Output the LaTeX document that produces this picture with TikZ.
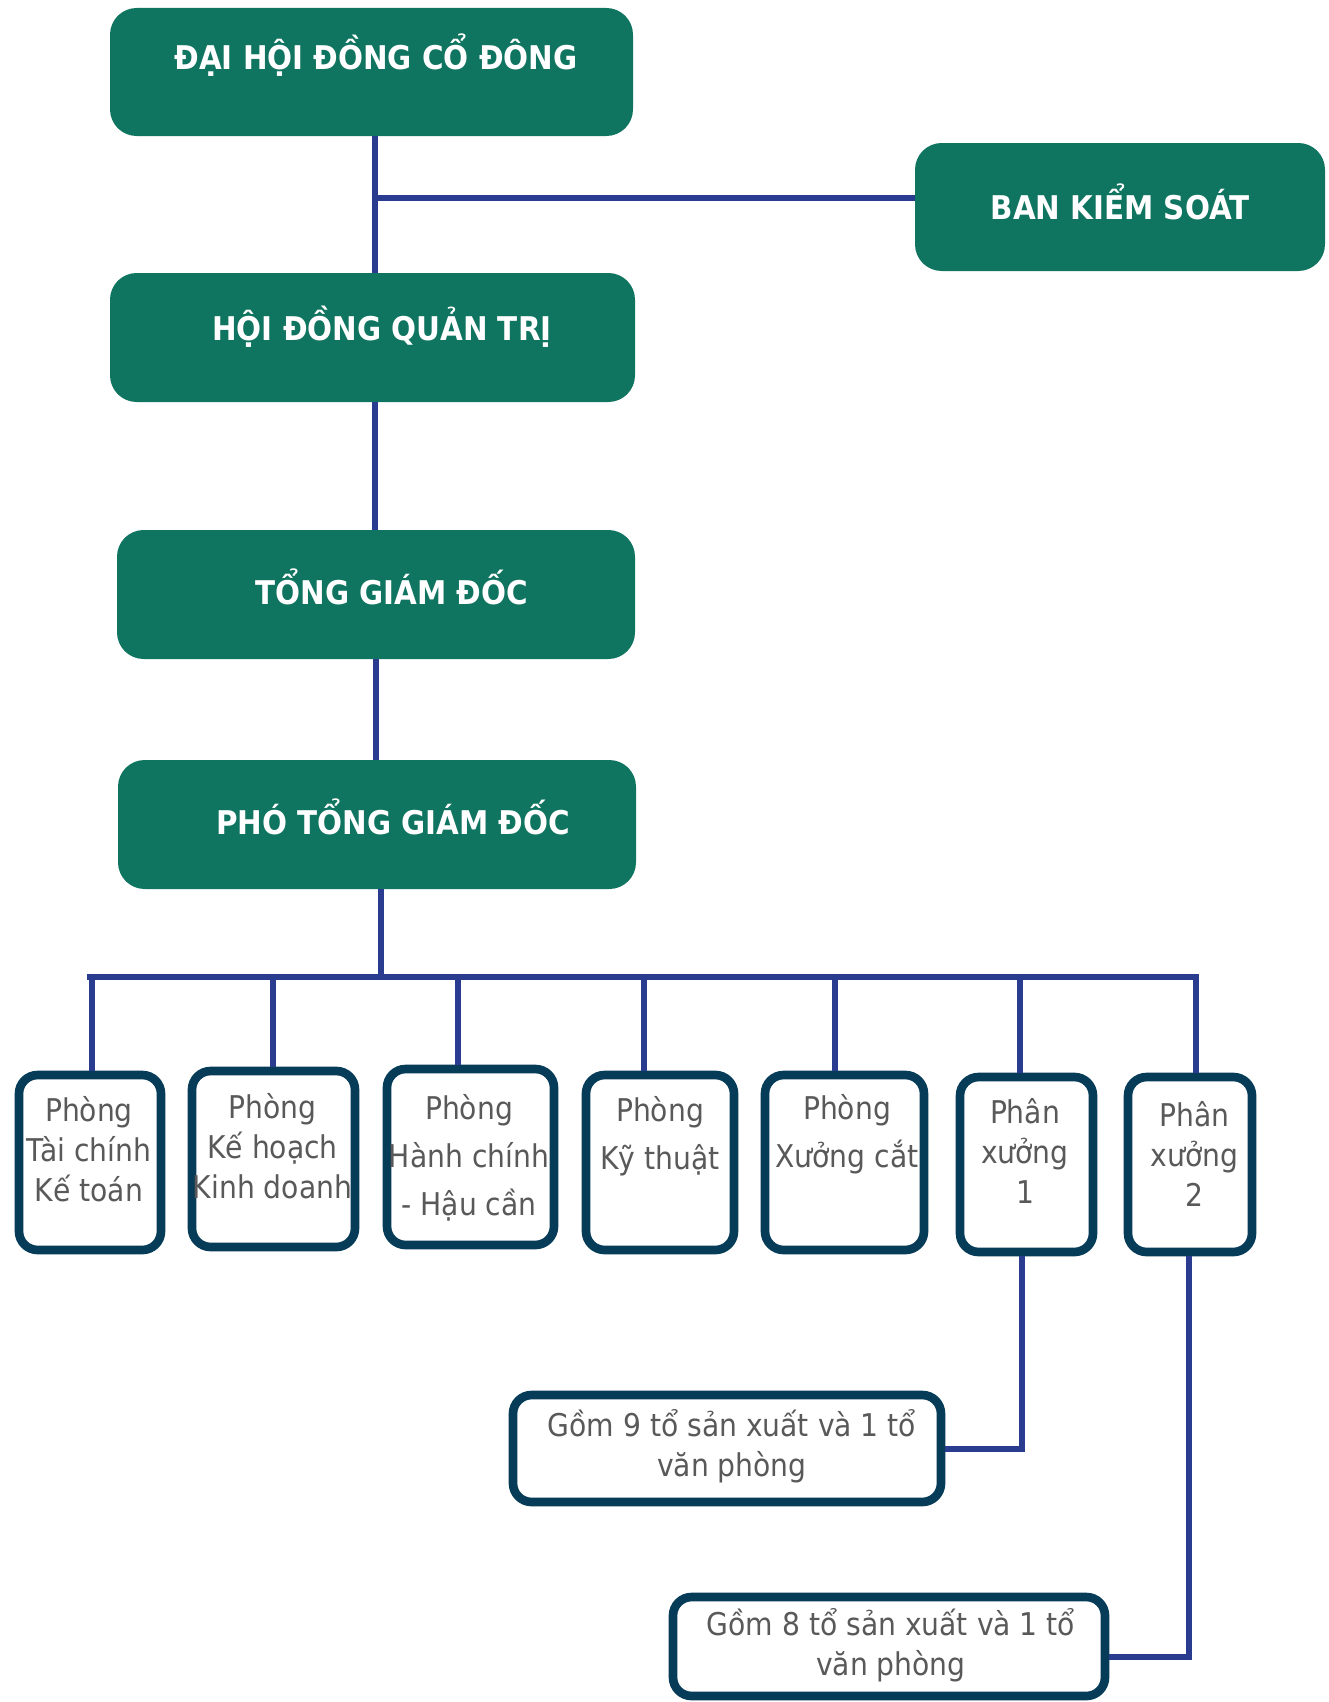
\documentclass[tikz,border=0pt]{standalone}
\usepackage{fontspec}
\setmainfont{DejaVu Sans Condensed}
\usetikzlibrary{calc}
\definecolor{gfill}{RGB}{15,116,96}
\definecolor{lblue}{RGB}{42,60,143}
\definecolor{bord}{RGB}{6,60,88}
\definecolor{tgray}{RGB}{89,89,89}
\tikzset{
  gbox/.style={fill=gfill, rounded corners=20pt, inner sep=0pt},
  htxt/.style={text=white, font=\bfseries\fontsize{24.5}{29}\selectfont, inner sep=0pt},
  wbox/.style={draw=bord, line width=6.5pt, fill=white, rounded corners=14pt, inner sep=0pt},
  btxt/.style={text=tgray, font=\fontsize{23.5}{30}\selectfont, align=center, inner sep=0pt},
  btxtw/.style={text=tgray, font=\fontsize{23.5}{36}\selectfont, align=center, inner sep=0pt},
  conn/.style={draw=lblue, line width=3.9pt},
}
\begin{document}
\begin{tikzpicture}[x=0.75pt,y=-0.75pt]
\useasboundingbox (0,0) rectangle (1328,1702);
% green boxes
\node[gbox, minimum width=392.25pt, minimum height=96pt] (g1) at (371.5,72) {};
\node[htxt] (t1) at (376,55) {ĐẠI HỘI ĐỒNG CỔ ĐÔNG};
\node[gbox, minimum width=307.5pt, minimum height=96pt] (bks) at (1120,207) {};
\node[htxt] (tbks) at (1120,202) {BAN KIỂM SOÁT};
\node[gbox, minimum width=393.75pt, minimum height=96.75pt] (g2) at (372.5,337.5) {};
\node[htxt] (t2) at (382,327) {HỘI ĐỒNG QUẢN TRỊ};
\node[gbox, minimum width=388.5pt, minimum height=96.75pt] (g3) at (376,594.5) {};
\node[htxt] (t3) at (392,587) {TỔNG GIÁM ĐỐC};
\node[gbox, minimum width=388.5pt, minimum height=96.75pt] (g4) at (377,824.5) {};
\node[htxt] (t4) at (393,817) {PHÓ TỔNG GIÁM ĐỐC};
% department boxes
\node[wbox, minimum width=106.5pt, minimum height=131.25pt] (b1) at (90,1162.5) {};
\node[btxt] (tb1) at (89,1149) {Phòng\\Tài chính\\Kế toán};
\node[wbox, minimum width=122.25pt, minimum height=132pt] (b2) at (273.5,1159) {};
\node[btxt] (tb2) at (272.5,1146) {Phòng\\Kế hoạch\\Kinh doanh};
\node[wbox, minimum width=125.25pt, minimum height=132pt] (b3) at (470.5,1157) {};
\node[btxtw] (tb3) at (469,1158) {Phòng\\Hành chính\\- Hậu cần};
\node[wbox, minimum width=111pt, minimum height=131.25pt] (b4) at (660,1162.5) {};
\node[btxtw] (tb4) at (660,1136) {Phòng\\Kỹ thuật};
\node[wbox, minimum width=119.25pt, minimum height=131.25pt] (b5) at (844.5,1162.5) {};
\node[btxtw] (tb5) at (847,1134) {Phòng\\Xưởng cắt};
\node[wbox, minimum width=99.75pt, minimum height=131.25pt] (b6) at (1026.5,1164.5) {};
\node[btxt] (tb6) at (1025,1151) {Phân\\xưởng\\1};
\node[wbox, minimum width=93pt, minimum height=131.25pt] (b7) at (1190,1164.5) {};
\node[btxt] (tb7) at (1194.5,1154) {Phân\\xưởng\\2};
% sub boxes
\node[wbox, minimum width=321pt, minimum height=80.25pt] (sa) at (727,1448.5) {};
\node[btxt] (tsa) at (732,1446) {Gồm 9 tổ sản xuất và 1 tổ\\văn phòng};
\node[wbox, minimum width=324pt, minimum height=74.25pt] (sb) at (889,1646.5) {};
\node[btxt] (tsb) at (891,1645) {Gồm 8 tổ sản xuất và 1 tổ\\văn phòng};
% connectors
\coordinate (tr1) at (375,198);
\draw[conn] (g1.south -| tr1) -- (g2.north -| tr1);
\draw[conn] (tr1) -- (bks.west |- tr1);
\draw[conn] (g2.south -| tr1) -- (g3.north -| tr1);
\coordinate (tr2) at (376,700);
\draw[conn] (g3.south -| tr2) -- (g4.north -| tr2);
\coordinate (bj) at (381,977);
\coordinate (busl) at (87,977);
\coordinate (busr) at (1199,977);
\draw[conn] (g4.south -| bj) -- (bj);
\draw[conn] (busl) -- (busr);
\coordinate (d1) at (92,977);
\coordinate (d2) at (273,977);
\coordinate (d3) at (458,977);
\coordinate (d4) at (644,977);
\coordinate (d5) at (835,977);
\coordinate (d6) at (1020,977);
\coordinate (d7) at (1196,977);
\draw[conn] (d1) -- (b1.north -| d1);
\draw[conn] (d2) -- (b2.north -| d2);
\draw[conn] (d3) -- (b3.north -| d3);
\draw[conn] (d4) -- (b4.north -| d4);
\draw[conn] (d5) -- (b5.north -| d5);
\draw[conn] (d6) -- (b6.north -| d6);
\draw[conn] (d7) -- (b7.north -| d7);
\coordinate (ea) at (1022,1449);
\coordinate (eb) at (1189,1657);
\draw[conn] (b6.south -| ea) -- (ea) -- (sa.east |- ea);
\draw[conn] (b7.south -| eb) -- (eb) -- (sb.east |- eb);
\end{tikzpicture}
\end{document}
